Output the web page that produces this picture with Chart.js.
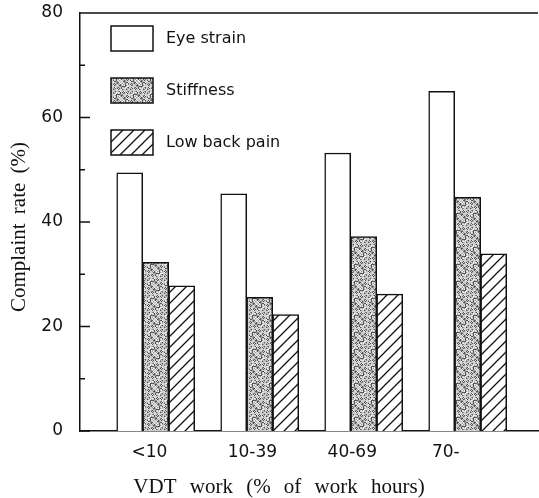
<!DOCTYPE html>
<html>
<head>
<meta charset="utf-8">
<script src="https://cdn.jsdelivr.net/npm/chart.js@4/dist/chart.umd.min.js"></script>
<style>
  html, body { margin: 0; padding: 0; background: #fff; }
  #wrap { width: 539px; height: 498px; }
</style>
</head>
<body>
<div id="wrap"><canvas id="chart"></canvas></div>
<script>
const categories = ["<10", "10-39", "40-69", "70-"];
const eyeStrain = [49.4, 45.4, 53.2, 65.0];
const stiffness = [32.3, 25.6, 37.2, 44.7];
const lowBackPain = [27.8, 22.3, 26.2, 33.9];
const groupPos = [1, 2, 3, 4];
const tickPos = [0.94, 1.93, 2.89, 3.79];
const yTicks = [0, 20, 40, 60, 80];

const INK = "#111";
const SANS = "'DejaVu Sans'";

function stipplePattern() {
  const c = document.createElement("canvas");
  c.width = c.height = 17;
  const g = c.getContext("2d");
  g.fillStyle = "#cfcfcf";
  g.fillRect(0, 0, 17, 17);
  for (let y = 0; y < 17; y++) {
    for (let x = 0; x < 17; x++) {
      const h = (x * 37 + y * 91 + x * y * 13) % 17;
      if (h < 4) g.fillStyle = "#555";
      else if (h < 7) g.fillStyle = "#999";
      else if (h > 14) g.fillStyle = "#f4f4f4";
      else continue;
      g.fillRect(x, y, 1, 1);
    }
  }
  return g.createPattern(c, "repeat");
}

function hatchPattern() {
  const s = 11;
  const c = document.createElement("canvas");
  c.width = c.height = s;
  const g = c.getContext("2d");
  g.fillStyle = "#fff";
  g.fillRect(0, 0, s, s);
  g.strokeStyle = INK;
  g.lineWidth = 1.3;
  g.beginPath();
  g.moveTo(-1, s + 1); g.lineTo(s + 1, -1);
  g.moveTo(-2, 2); g.lineTo(2, -2);
  g.moveTo(s - 2, s + 2); g.lineTo(s + 2, s - 2);
  g.stroke();
  return g.createPattern(c, "repeat");
}

const toPoints = (arr) => arr.map((v, i) => ({ x: groupPos[i], y: v }));

// ticks pointing into the plot, top frame line, legend and axis titles
const decor = {
  id: "decor",
  afterDraw(chart) {
    const { ctx, chartArea: a, scales } = chart;
    ctx.save();
    ctx.strokeStyle = INK;
    ctx.lineWidth = 1.5;
    ctx.beginPath();
    ctx.moveTo(a.left, a.top);
    ctx.lineTo(a.right, a.top);
    scales.y.ticks.forEach((t) => {
      const py = scales.y.getPixelForValue(t.value);
      const len = t.value % 20 === 0 ? 10 : 5;
      ctx.moveTo(a.left, py);
      ctx.lineTo(a.left + len, py);
    });
    ctx.stroke();

    // legend
    ctx.font = "16px " + SANS;
    ctx.textBaseline = "middle";
    ctx.textAlign = "left";
    chart.data.datasets.forEach((ds, i) => {
      const bx = a.left + 31, by = a.top + 13 + i * 52;
      ctx.fillStyle = ds.backgroundColor;
      ctx.fillRect(bx, by, 42, 25);
      ctx.lineWidth = 1.5;
      ctx.strokeStyle = INK;
      ctx.strokeRect(bx, by, 42, 25);
      ctx.fillStyle = INK;
      ctx.fillText(ds.label, bx + 55, by + 13);
    });

    // axis titles
    ctx.font = "21px 'Liberation Serif'";
    ctx.fillStyle = INK;
    ctx.textAlign = "center";
    if ("wordSpacing" in ctx) ctx.wordSpacing = "8px";
    ctx.fillText("VDT work (% of work hours)", 279, 487);
    if ("wordSpacing" in ctx) ctx.wordSpacing = "4px";
    ctx.translate(19, 227);
    ctx.rotate(-Math.PI / 2);
    ctx.fillText("Complaint rate (%)", 0, 0);
    ctx.restore();
  },
};

const stipple = stipplePattern();
const hatch = hatchPattern();

new Chart(document.getElementById("chart"), {
  type: "bar",
  data: {
    datasets: [
      { label: "Eye strain", data: toPoints(eyeStrain), backgroundColor: "#fff" },
      { label: "Stiffness", data: toPoints(stiffness), backgroundColor: stipple },
      { label: "Low back pain", data: toPoints(lowBackPain), backgroundColor: hatch },
    ],
  },
  options: {
    responsive: true,
    maintainAspectRatio: false,
    animation: false,
    layout: { padding: { top: 13, right: 1, left: 0, bottom: 0 } },
    datasets: {
      bar: {
        borderColor: INK,
        borderWidth: 1.5,
        barThickness: 26,
      },
    },
    plugins: { legend: { display: false }, tooltip: { enabled: false } },
    scales: {
      x: {
        type: "linear",
        offset: false,
        min: 0.272,
        max: 4.676,
        grid: { display: false, offset: false },
        border: { display: true, color: INK, width: 1.5 },
        afterBuildTicks: (s) => { s.ticks = tickPos.map((v) => ({ value: v })); },
        afterFit: (s) => { s.height = 67; s.paddingLeft = 0; s.paddingRight = 0; },
        ticks: {
          color: INK,
          padding: 3,
          font: { family: SANS, size: 17 },
          callback: (v, i) => categories[i],
          maxRotation: 0,
          autoSkip: false,
        },
      },
      y: {
        min: 0,
        max: 80,
        grid: { display: false },
        border: { display: true, color: INK, width: 1.5 },
        afterFit: (s) => { s.width = 80; s.paddingTop = 0; s.paddingBottom = 0; },
        ticks: {
          stepSize: 10,
          color: INK,
          padding: 9,
          font: { family: SANS, size: 17 },
          callback: (v) => (yTicks.includes(v) ? v : ""),
        },
      },
    },
  },
  plugins: [decor],
});
</script>
</body>
</html>
